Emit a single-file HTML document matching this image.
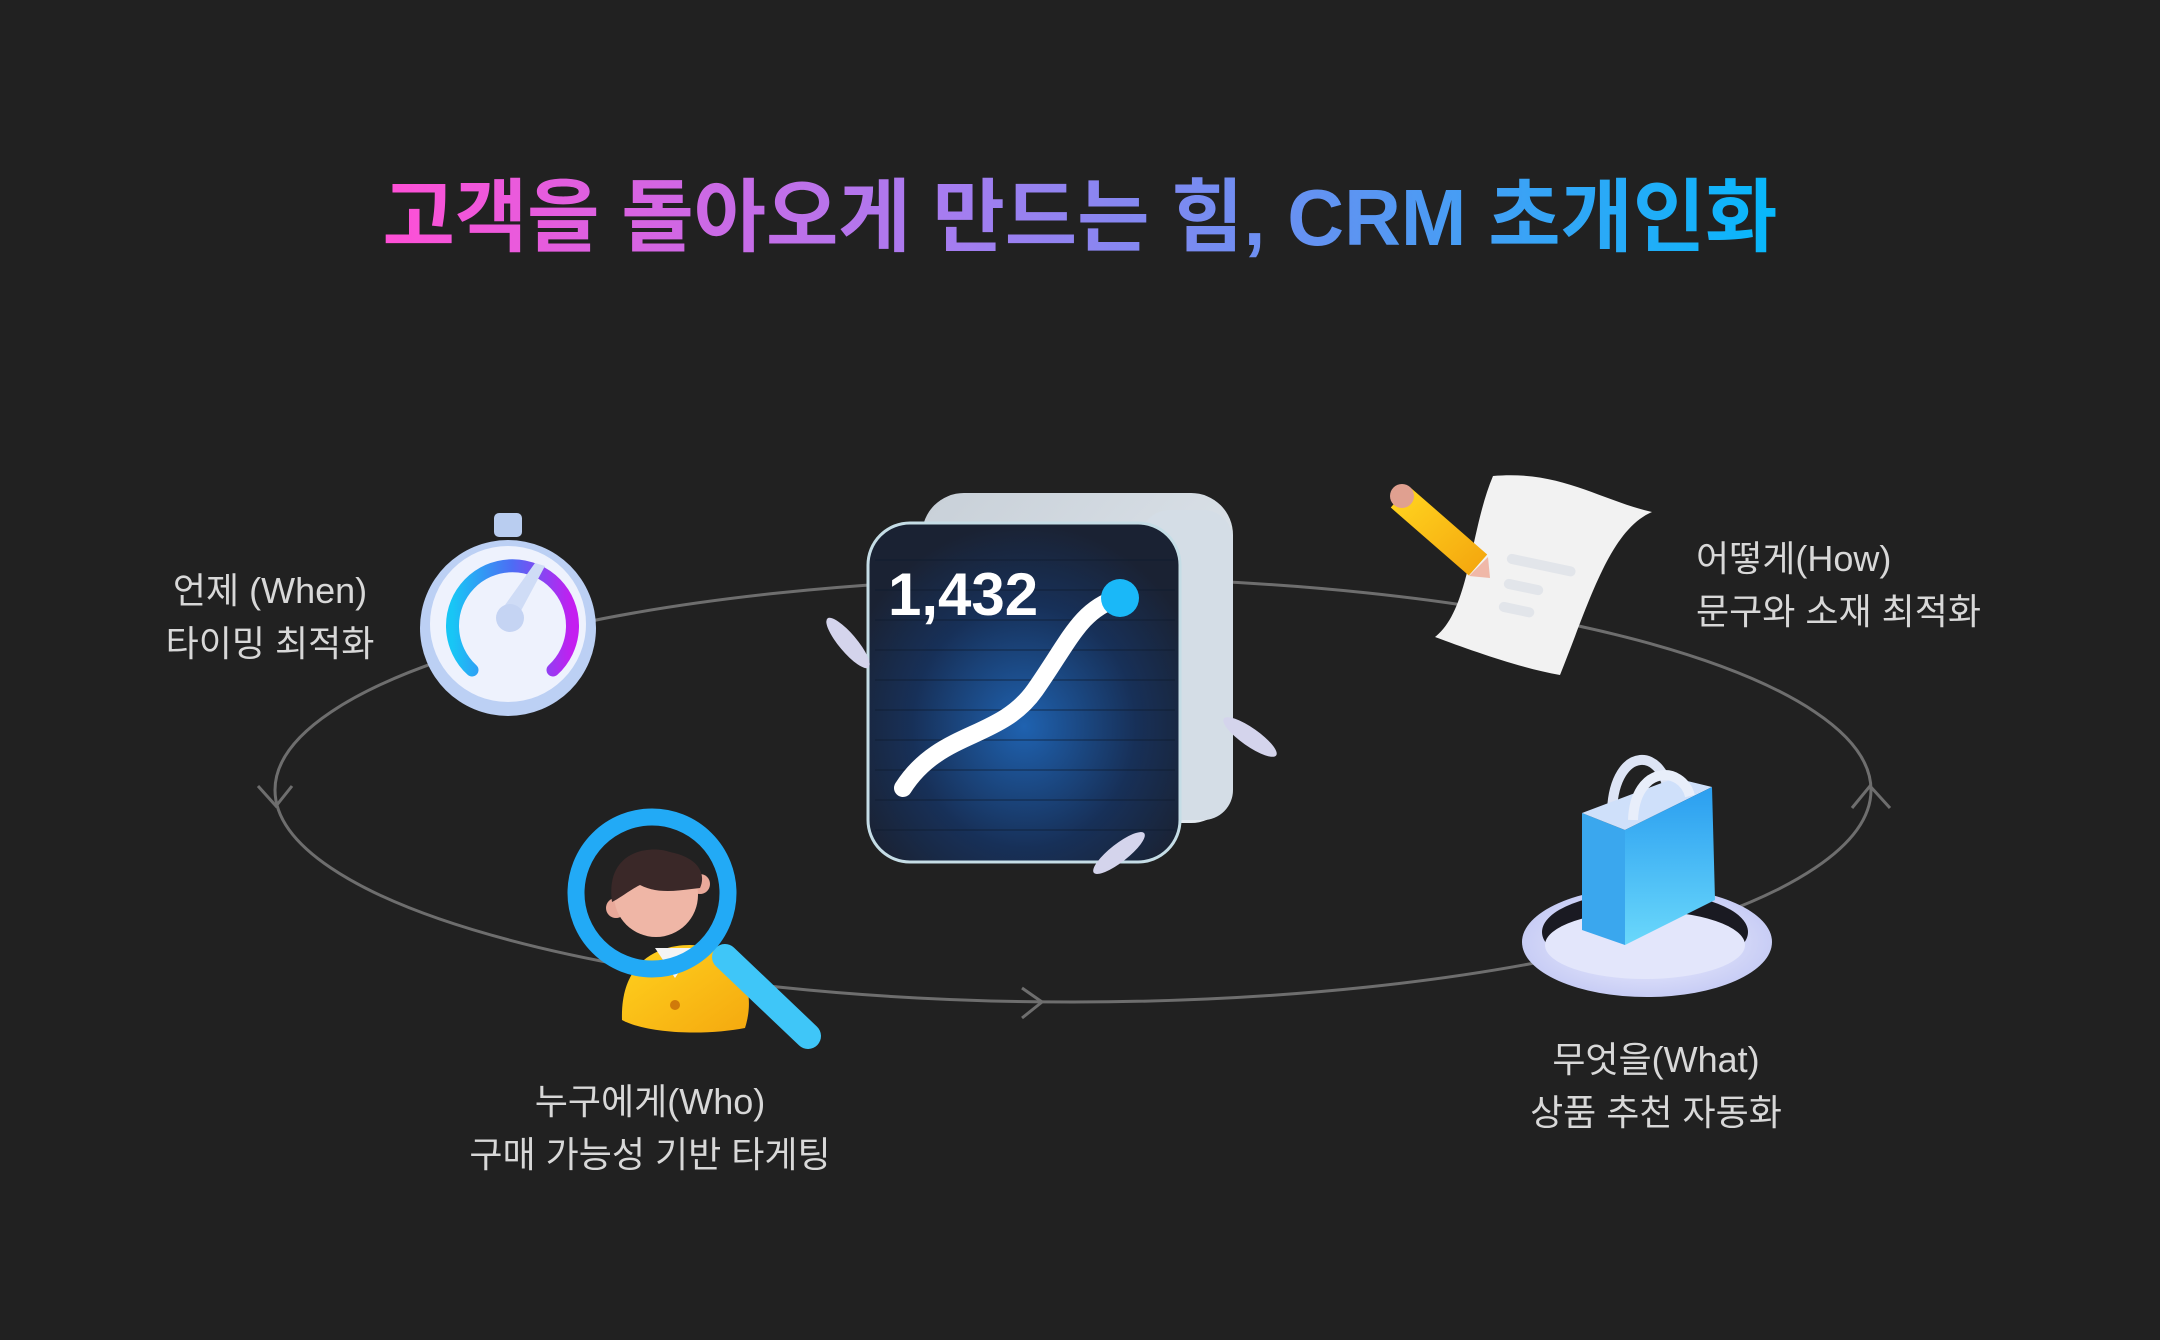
<!DOCTYPE html>
<html><head><meta charset="utf-8"><style>
html,body{margin:0;padding:0;background:#212121;}
svg{display:block;}
text{font-family:"Liberation Sans","Noto Sans CJK KR",sans-serif;}
</style></head><body>
<svg width="2160" height="1340" viewBox="0 0 2160 1340" xmlns="http://www.w3.org/2000/svg">
<defs>
<linearGradient id="tg" x1="383" y1="0" x2="1778" y2="0" gradientUnits="userSpaceOnUse">
<stop offset="0" stop-color="#ff4fd6"/><stop offset="0.4" stop-color="#a77cf0"/><stop offset="0.7" stop-color="#5b95f2"/><stop offset="1" stop-color="#06b8fb"/></linearGradient>
<radialGradient id="cardg" cx="0.5" cy="0.6" r="0.6"><stop offset="0" stop-color="#1f62b0"/><stop offset="0.6" stop-color="#173058"/><stop offset="1" stop-color="#1a2233"/></radialGradient>
<linearGradient id="backg" x1="0" y1="0" x2="1" y2="1"><stop offset="0" stop-color="#c8d0d8"/><stop offset="1" stop-color="#e6ecf2"/></linearGradient>
<linearGradient id="arcg" x1="0" y1="0" x2="1" y2="0"><stop offset="0" stop-color="#18c6f5"/><stop offset="0.5" stop-color="#4d6cf4"/><stop offset="1" stop-color="#c41ef0"/></linearGradient>
<linearGradient id="bagg" x1="0" y1="0" x2="0" y2="1"><stop offset="0" stop-color="#2a9ef0"/><stop offset="1" stop-color="#6ad8fb"/></linearGradient>
<radialGradient id="platg" cx="0.5" cy="0.5" r="0.5"><stop offset="0" stop-color="#f3f4ff"/><stop offset="1" stop-color="#c8cdf5"/></radialGradient>
<linearGradient id="yel" x1="0" y1="0" x2="1" y2="1"><stop offset="0" stop-color="#ffd21e"/><stop offset="1" stop-color="#f5a90f"/></linearGradient>
</defs>
<rect width="2160" height="1340" fill="#212121"/>
<text x="1080" y="245" text-anchor="middle" font-size="80" font-weight="bold" fill="url(#tg)" textLength="1395" lengthAdjust="spacingAndGlyphs">고객을 돌아오게 만드는 힘, CRM 초개인화</text>

<!-- orbit -->
<ellipse cx="1073" cy="790" rx="798" ry="212" fill="none" stroke="#6e6e6e" stroke-width="3"/>
<polyline points="258,786 276,806 292,786" fill="none" stroke="#6e6e6e" stroke-width="3"/>
<polyline points="1022,988 1042,1002 1022,1018" fill="none" stroke="#6e6e6e" stroke-width="3"/>
<polyline points="1852,808 1870,786 1890,808" fill="none" stroke="#6e6e6e" stroke-width="3"/>

<!-- labels -->
<g font-size="36" fill="#d8d8d8">
<text x="270" y="603" text-anchor="middle">언제 (When)</text>
<text x="270" y="656" text-anchor="middle">타이밍 최적화</text>
<text x="1696" y="571">어떻게(How)</text>
<text x="1696" y="624">문구와 소재 최적화</text>
<text x="1656" y="1072" text-anchor="middle">무엇을(What)</text>
<text x="1656" y="1125" text-anchor="middle">상품 추천 자동화</text>
<text x="650" y="1114" text-anchor="middle">누구에게(Who)</text>
<text x="650" y="1167" text-anchor="middle">구매 가능성 기반 타게팅</text>
</g>

<!-- stopwatch -->
<rect x="494" y="513" width="28" height="24" rx="5" fill="#b9cdf0"/>
<circle cx="508" cy="628" r="88" fill="#bcd0f4"/>
<circle cx="508" cy="624" r="78" fill="#eef2fd"/>
<path d="M472,670 A60,60 0 1 1 553,670" fill="none" stroke="url(#arcg)" stroke-width="13" stroke-linecap="round"/>
<polygon points="535,563 545,566 516,620 500,612" fill="#cfdcf6"/>
<circle cx="510" cy="618" r="14" fill="#c5d4f3"/>

<!-- central card -->
<rect x="922" y="493" width="311" height="330" rx="42" fill="url(#backg)"/>
<rect x="1140" y="510" width="93" height="310" rx="30" fill="#d4dde6"/>
<rect x="868" y="523" width="312" height="339" rx="42" fill="url(#cardg)" stroke="#c5dde6" stroke-width="3"/>
<g stroke="#0e1b2e" stroke-width="2" opacity="0.35">
<line x1="875" y1="560" x2="1175" y2="560"/><line x1="875" y1="590" x2="1175" y2="590"/><line x1="875" y1="620" x2="1175" y2="620"/><line x1="875" y1="650" x2="1175" y2="650"/><line x1="875" y1="680" x2="1175" y2="680"/><line x1="875" y1="710" x2="1175" y2="710"/><line x1="875" y1="740" x2="1175" y2="740"/><line x1="875" y1="770" x2="1175" y2="770"/><line x1="875" y1="800" x2="1175" y2="800"/><line x1="875" y1="830" x2="1175" y2="830"/>
</g>
<text x="888" y="615" font-size="60" font-weight="bold" fill="#fff">1,432</text>
<path d="M903,788 C940,730 1000,740 1035,690 S1080,610 1118,598" fill="none" stroke="#fff" stroke-width="18" stroke-linecap="round"/>
<circle cx="1120" cy="598" r="19" fill="#1ab8f8"/>
<ellipse cx="848" cy="643" rx="32" ry="9" transform="rotate(50 848 643)" fill="#d4d4ec"/>
<ellipse cx="1250" cy="737" rx="32" ry="9" transform="rotate(35 1250 737)" fill="#d4d4ec"/>
<ellipse cx="1119" cy="853" rx="32" ry="9" transform="rotate(-38 1119 853)" fill="#d4d4ec"/>

<!-- paper + pencil -->
<path d="M1493,476 C1560,470 1600,500 1652,512 C1610,530 1590,600 1560,675 C1520,668 1470,650 1435,637 C1470,610 1470,530 1493,476 Z" fill="#f2f2f2"/>
<g fill="#e2e5ea"><rect x="1508" y="553" width="70" height="10" rx="5" transform="rotate(12 1508 553)"/><rect x="1505" y="578" width="40" height="10" rx="5" transform="rotate(12 1505 578)"/><rect x="1500" y="601" width="36" height="10" rx="5" transform="rotate(12 1500 601)"/></g>
<line x1="1400" y1="497" x2="1478" y2="565" stroke="url(#yel)" stroke-width="28" stroke-linecap="butt"/>
<polygon points="1469,576 1488,557 1490,578" fill="#f0b8a8"/>
<circle cx="1402" cy="496" r="12" fill="#e0a090"/>

<!-- bag -->
<ellipse cx="1647" cy="942" rx="125" ry="55" fill="url(#platg)"/>
<ellipse cx="1645" cy="932" rx="103" ry="40" fill="#1a1a22"/>
<ellipse cx="1645" cy="945" rx="100" ry="34" fill="#e3e6fb"/>
<path d="M1612,810 C1615,745 1665,745 1670,800" fill="none" stroke="#dde4f5" stroke-width="10"/>
<polygon points="1582,813 1625,830 1625,945 1582,930" fill="#3aa7ee"/>
<polygon points="1582,813 1675,778 1712,787 1625,830" fill="#cfe0fa"/>
<polygon points="1625,830 1712,787 1715,900 1625,945" fill="url(#bagg)"/>
<path d="M1633,820 C1635,765 1682,765 1690,796" fill="none" stroke="#e8eefa" stroke-width="10"/>

<!-- magnifier + person -->
<path d="M622,1020 C620,960 660,945 690,945 C730,945 760,980 745,1028 C710,1035 650,1035 622,1020 Z" fill="url(#yel)"/>
<polygon points="655,948 695,948 675,978" fill="#f4f4f4"/>
<circle cx="675" cy="1005" r="5" fill="#d07a0a"/>
<circle cx="616" cy="908" r="10" fill="#e9a99a"/>
<circle cx="700" cy="884" r="10" fill="#e9a99a"/>
<circle cx="656" cy="895" r="42" fill="#efb6a6"/>
<path d="M612,902 C605,850 650,845 670,852 C700,858 706,875 700,888 C680,890 660,895 640,885 C630,890 620,898 612,902 Z" fill="#3a2828"/>
<line x1="725" y1="957" x2="808" y2="1036" stroke="#3fc6f8" stroke-width="26" stroke-linecap="round"/>
<circle cx="652" cy="893" r="76" fill="none" stroke="#22aaf6" stroke-width="17"/>
</svg>
</body></html>
